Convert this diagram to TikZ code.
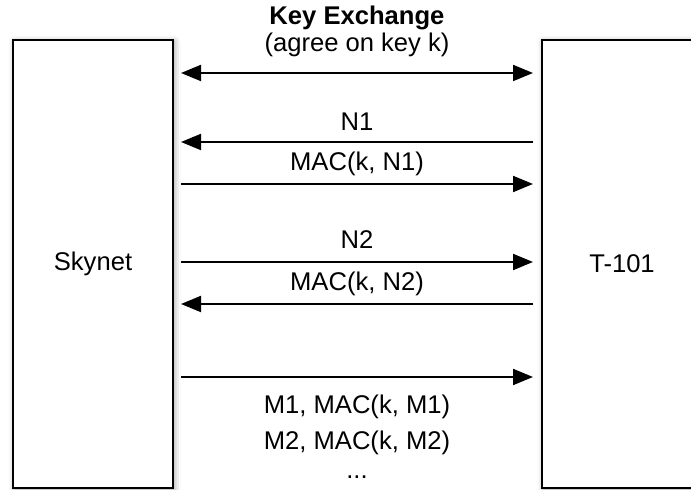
\documentclass[tikz,border=0pt]{standalone}
\usepackage{fontspec}
\setmainfont{Liberation Sans}
\usepackage{tikz}
\usetikzlibrary{arrows.meta,shadows.blur}

\begin{document}
\begin{tikzpicture}[x=0.5pt, y=-0.5pt,
  font=\fontsize{12.8}{15}\selectfont,
  party/.style={draw, line width=1pt, fill=white, minimum width=80pt, minimum height=224pt,
    blur shadow={shadow xshift=0.8pt, shadow yshift=-0.8pt, shadow blur radius=3pt}},
  msg/.style={line width=1pt, arrows={-Triangle[length=10pt, width=8pt]}},
  both/.style={line width=1pt, arrows={Triangle[length=10pt, width=8pt]-Triangle[length=10pt, width=8pt]}},
  lbl/.style={inner sep=0pt}]
\useasboundingbox (0,0) rectangle (691,490);
%%%%% Parties %%%%%
\node[party] (skynet) at (93,264) {Skynet};
\node[party] (t101) at (622,264) {T-101};
%%%%% Arrow ends %%%%%
\foreach \n/\y in {kx/73, n1/142, mac1/184, n2/262, mac2/304, data/377}{
\coordinate (\n-l) at (181,\y);
\coordinate (\n-r) at (533,\y);
}
%%%%% Messages %%%%%
\node[lbl] (kxtitle) at (357,18) {\bfseries Key Exchange};
\node[lbl] (kxnote) at (357,45) {(agree on key k)};
\draw[both] (kx-l) -- (kx-r);
\node[lbl] (n1lbl) at (357,122) {N1};
\draw[msg] (n1-r) -- (n1-l);
\node[lbl] (mac1lbl) at (357,164) {MAC(k, N1)};
\draw[msg] (mac1-l) -- (mac1-r);
\node[lbl] (n2lbl) at (357,240) {N2};
\draw[msg] (n2-l) -- (n2-r);
\node[lbl] (mac2lbl) at (357,284) {MAC(k, N2)};
\draw[msg] (mac2-r) -- (mac2-l);
\draw[msg] (data-l) -- (data-r);
\node[lbl] (m1lbl) at (357,407) {M1, MAC(k, M1)};
\node[lbl] (m2lbl) at (357,443) {M2, MAC(k, M2)};
\node[lbl] (dots) at (357,477) {...};
\end{tikzpicture}
\end{document}
